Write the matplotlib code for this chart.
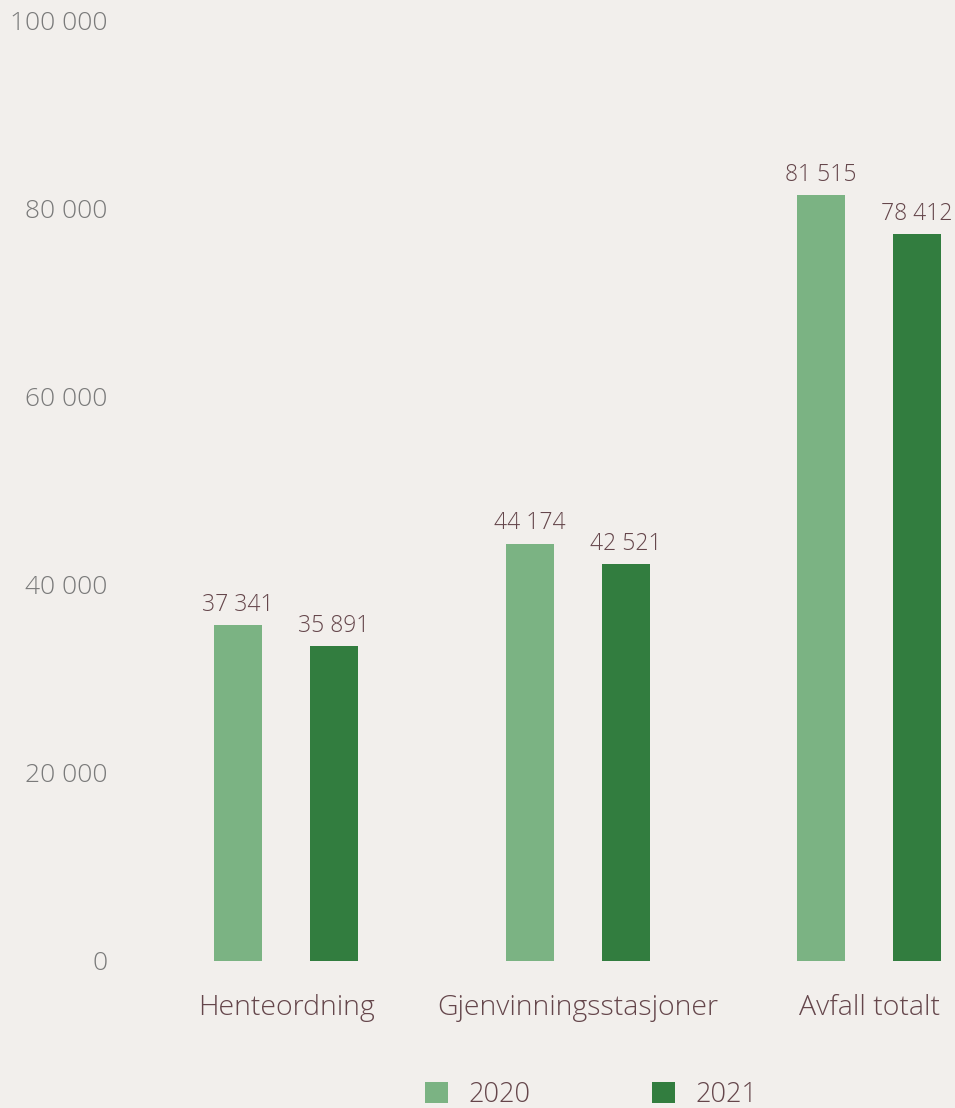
import matplotlib
matplotlib.use("Agg")
import matplotlib.pyplot as plt
import numpy as np
from matplotlib.patches import Patch

categories = ["Henteordning", "Gjenvinningsstasjoner", "Avfall totalt"]
values_2020 = [35700, 44400, 81500]
values_2021 = [33500, 42200, 77300]
labels_2020 = ["37 341", "44 174", "81 515"]
labels_2021 = ["35 891", "42 521", "78 412"]
yticks = [0, 20000, 40000, 60000, 80000, 100000]
ytick_labels = ["0", "20 000", "40 000", "60 000", "80 000", "100 000"]
series_names = ["2020", "2021"]

BG = "#f2efec"
C20 = "#7bb383"
C21 = "#327d3f"
TXT = "#65464b"
TICK = "#7a7a7a"

W, H = 955, 1108
fig = plt.figure(figsize=(W / 100, H / 100), dpi=100, facecolor=BG)
left_px, right_px = 120, 955
bottom_px, top_px = 961, 21
ax = fig.add_axes([left_px / W, (H - bottom_px) / H, (right_px - left_px) / W, (bottom_px - top_px) / H])
ax.set_facecolor(BG)

x = np.arange(len(categories))
w = 48 / 291.5
b1 = ax.bar(x - w, values_2020, width=w, color=C20)
b2 = ax.bar(x + w, values_2021, width=w, color=C21)

fam = ["Open Sans", "DejaVu Sans"]
for bars, labs in ((b1, labels_2020), (b2, labels_2021)):
    for rect, lab in zip(bars, labs):
        ax.annotate(lab, (rect.get_x() + rect.get_width() / 2, rect.get_height()),
                    xytext=(0, 6), textcoords="offset points", ha="center", va="bottom",
                    fontsize=16.5, color=TXT, family=fam, fontweight="light",
                    annotation_clip=False)

ax.set_xlim((left_px - 286) / 291.5, 2 + (right_px - 869) / 291.5)
ax.set_ylim(0, 100000)
ax.set_yticks(yticks)
ax.set_yticklabels(ytick_labels, family=fam, fontweight="light", fontsize=19, color=TICK)
ax.set_xticks(x)
ax.set_xticklabels(categories, family=fam, fontweight="light", fontsize=20.5, color=TXT)
ax.tick_params(axis="y", length=0, pad=9)
ax.tick_params(axis="x", length=0, pad=24)
for s in ax.spines.values():
    s.set_visible(False)

handles = [Patch(facecolor=C20), Patch(facecolor=C21)]
leg = fig.legend(handles, series_names, loc="center left", bbox_to_anchor=(403 / W, 1 - 1095 / H),
                 ncol=2, frameon=False, handlelength=0.85, handleheight=0.85, handletextpad=0.75,
                 columnspacing=4.5, borderpad=0.3,
                 prop={"family": "Open Sans", "weight": "light", "size": 19.5})
for t in leg.get_texts():
    t.set_color(TXT)

fig.savefig("out.png", dpi=100, facecolor=BG)
